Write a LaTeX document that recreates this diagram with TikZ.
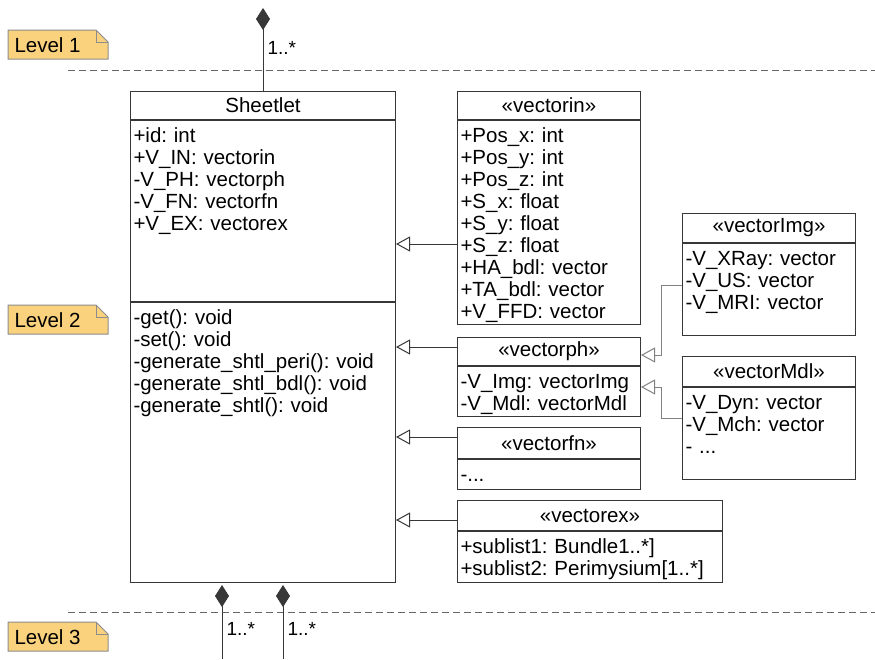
\documentclass[tikz,border=0pt]{standalone}
\usepackage{fontspec}
\setmainfont{Liberation Sans}
\frenchspacing
\usetikzlibrary{arrows.meta,positioning}
\definecolor{boxc}{RGB}{55,55,55}
\definecolor{linkc}{RGB}{130,130,130}
\definecolor{notefill}{RGB}{250,210,125}
\definecolor{notedraw}{RGB}{140,140,140}
\begin{document}
\begin{tikzpicture}[x=1pt,y=-1pt,line width=1pt,
  font=\fontsize{20.5}{22}\selectfont,
  ttl/.style={draw=boxc,fill=white,anchor=north west,inner sep=0pt,align=center},
  sec/.style={draw=boxc,fill=white,inner xsep=3pt,inner ysep=4pt,align=left,text height=18pt},
  gen/.style={-{Triangle[open,length=14pt,width=15pt,fill=white]},draw=boxc},
  comp/.style={-{Diamond[length=22pt,width=14pt]},draw=boxc},
  note/.style={fill=notefill,draw=notedraw},
  sep/.style={draw=black!60,dash pattern=on 7pt off 4pt},
  mult/.style={right,inner sep=4pt,font=\fontsize{19}{22}\selectfont}]
  \useasboundingbox (0,0) rectangle (875,659);

  % level notes and separators
  \foreach \y/\n in {30/1,305/2,622/3}{
    \filldraw[note] (8,\y) -- (96,\y) -- (108,\y+12) -- (108,\y+29) -- (8,\y+29) -- cycle;
    \draw[notedraw] (96,\y) -- (96,\y+12) -- (108,\y+12);
    \node[anchor=west,inner sep=0pt] (lvl\n) at (14,\y+15) {Level \n};
  }
  \draw[sep] (68,70) -- (875,70);
  \draw[sep] (68,612) -- (875,612);

  % Sheetlet
  \node[ttl,minimum width=265pt,minimum height=28pt] (shT) at (130,91) {Sheetlet};
  \node[sec,below=0pt of shT,text width=259pt,text depth=155pt] (shA)
    {+id: int\\+V\_IN: vectorin\\-V\_PH: vectorph\\-V\_FN: vectorfn\\+V\_EX: vectorex};
  \node[sec,below=0pt of shA,text width=259pt,text depth=254pt] (shM)
    {-get(): void\\-set(): void\\-generate\_shtl\_peri(): void\\-generate\_shtl\_bdl(): void\\-generate\_shtl(): void};

  % vectorin
  \node[ttl,minimum width=183pt,minimum height=28pt] (inT) at (457,91) {«vectorin»};
  \node[sec,below=0pt of inT,text width=177pt,text depth=178pt] (inB)
    {+Pos\_x: int\\+Pos\_y: int\\+Pos\_z: int\\+S\_x: float\\+S\_y: float\\+S\_z: float\\+HA\_bdl: vector\\+TA\_bdl: vector\\+V\_FFD: vector};

  % vectorph
  \node[ttl,minimum width=183pt,minimum height=28pt] (phT) at (457,337) {«vectorph»};
  \node[sec,below=0pt of phT,text width=177pt,text depth=24pt] (phB)
    {-V\_Img: vectorImg\\-V\_Mdl: vectorMdl};

  % vectorfn
  \node[ttl,minimum width=183pt,minimum height=31pt] (fnT) at (457,427) {«vectorfn»};
  \node[sec,below=0pt of fnT,text width=177pt,text depth=4pt] (fnB) {-...};

  % vectorex
  \node[ttl,minimum width=265pt,minimum height=30pt] (exT) at (457,500) {«vectorex»};
  \node[sec,below=0pt of exT,text width=259pt,text depth=25pt] (exB)
    {+sublist1: Bundle1..*]\\+sublist2: Perimysium[1..*]};

  % vectorImg
  \node[ttl,minimum width=173pt,minimum height=29pt] (imgT) at (682,213) {«vectorImg»};
  \node[sec,below=0pt of imgT,text width=167pt,text depth=66pt] (imgB)
    {-V\_XRay: vector\\-V\_US: vector\\-V\_MRI: vector};

  % vectorMdl
  \node[ttl,minimum width=173pt,minimum height=30pt] (mdlT) at (682,356) {«vectorMdl»};
  \node[sec,below=0pt of mdlT,text width=167pt,text depth=66pt] (mdlB)
    {-V\_Dyn: vector\\-V\_Mch: vector\\- ...};

  % generalisations
  \draw[gen] (inB.west |- 0,244) -- (shA.east |- 0,244);
  \draw[gen] (phT.west |- 0,347) -- (shM.east |- 0,347);
  \draw[gen] (fnT.west |- 0,437) -- (shM.east |- 0,437);
  \draw[gen] (exT.west |- 0,520) -- (shM.east |- 0,520);
  \draw[gen,draw=linkc] (imgB.west |- 0,285) -| (661,355) -- (phT.east |- 0,355);
  \draw[gen,draw=linkc] (mdlB.west |- 0,418) -| (661,387) -- (phB.east |- 0,387);

  % compositions
  \coordinate (upEnd) at (263,8);
  \coordinate (dnA) at (222,659);
  \coordinate (dnB) at (283,659);
  \draw[comp] (shT.north) -- node[mult,pos=0.52]{1..*} (upEnd);
  \draw[comp,shorten >=2pt] (dnA) -- node[mult,pos=0.4]{1..*} (shM.south -| dnA);
  \draw[comp,shorten >=2pt] (dnB) -- node[mult,pos=0.4]{1..*} (shM.south -| dnB);
\end{tikzpicture}
\end{document}
